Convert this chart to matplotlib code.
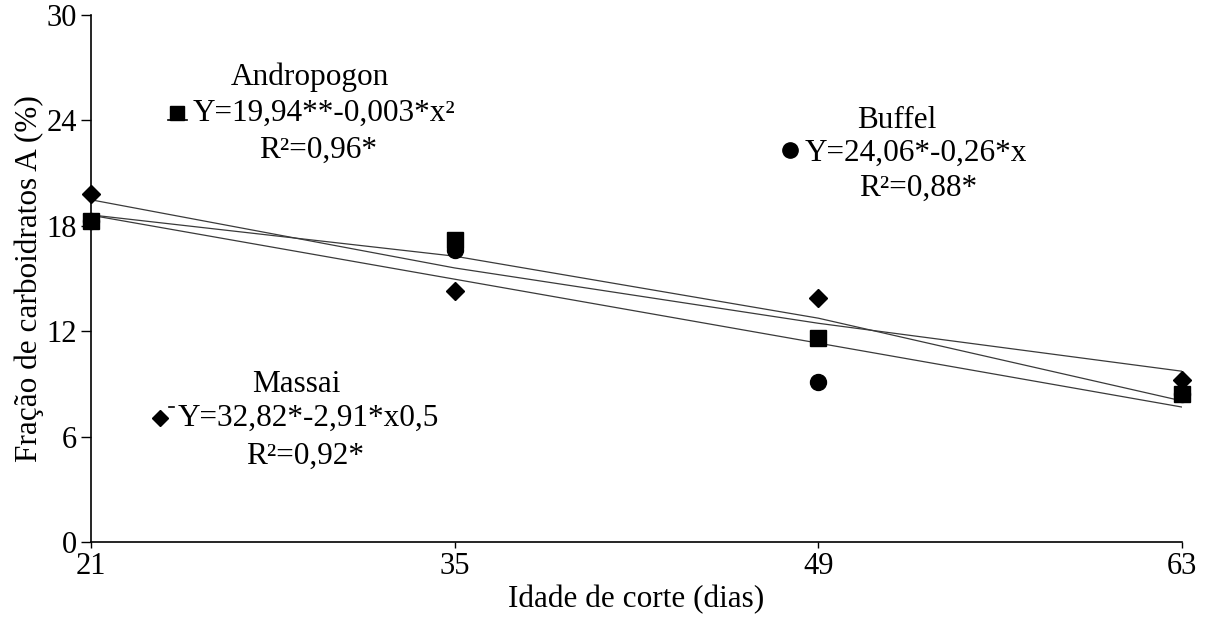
import matplotlib
matplotlib.use("Agg")
import matplotlib.pyplot as plt

plt.rcParams['font.family'] = ['Liberation Serif', 'DejaVu Serif']

# cutting age (days)
idade = [21, 35, 49, 63]

# observed values (%)
andropogon = [18.3, 17.2, 11.6, 8.4]
buffel = [18.3, 16.6, 9.1, 8.4]
massai = [19.8, 14.3, 13.9, 9.2]

# fitted trend lines read at each age
andropogon_fit = [18.62, 16.27, 12.74, 8.03]
buffel_fit = [18.60, 14.96, 11.32, 7.68]
massai_fit = [19.48, 15.60, 12.45, 9.72]

yticks = [0, 6, 12, 18, 24, 30]

fig = plt.figure(figsize=(12.08, 6.17), dpi=100)
ax = fig.add_axes([0.0753, 0.1216, 0.9032, 0.8541])

lc = '#3a3a3a'
ax.plot(idade, buffel_fit, color=lc, lw=0.9, zorder=1)
ax.plot(idade, andropogon_fit, color=lc, lw=0.9, zorder=1)
ax.plot(idade, massai_fit, color=lc, lw=0.9, zorder=1)

ax.plot(idade, buffel, 'o', color='black', ms=11.5, ls='none', zorder=3, clip_on=False)
ax.plot(idade, andropogon, 's', color='black', ms=11, ls='none', zorder=4, clip_on=False)
ax.plot(idade, massai, 'D', color='black', ms=9, ls='none', zorder=5, clip_on=False)

ax.set_xlim(21, 63)
ax.set_ylim(0, 30)
ax.set_xticks(idade)
ax.set_yticks(yticks)
ax.tick_params(axis='both', labelsize=22, width=1, colors='black')
ax.tick_params(axis='y', length=7, pad=3)
ax.tick_params(axis='x', length=4, pad=3)
for s in ['top', 'right']:
    ax.spines[s].set_visible(False)
for s in ['left', 'bottom']:
    ax.spines[s].set_linewidth(1.2)

ax.set_xlabel('Idade de corte (dias)', fontsize=22.5, labelpad=3)
ax.set_ylabel('Fração de carboidratos A (%)', fontsize=22.5, labelpad=2)

fs = 22.5
# Andropogon label
ax.text(29.43, 26.47, 'Andropogon', fontsize=fs, ha='center', va='center')
ax.plot([23.95, 24.7], [24.05, 24.05], color='black', lw=1.2)
ax.plot([24.31], [24.42], 's', color='black', ms=10.5)
ax.text(24.93, 24.42, 'Y=19,94**-0,003*x²', fontsize=fs, ha='left', va='center')
ax.text(29.74, 22.31, 'R²=0,96*', fontsize=fs, ha='center', va='center')

# Buffel label
ax.text(52.02, 24.02, 'Buffel', fontsize=fs, ha='center', va='center')
ax.plot([47.9], [22.31], 'o', color='black', ms=11)
ax.text(48.48, 22.14, 'Y=24,06*-0,26*x', fontsize=fs, ha='left', va='center')
ax.text(52.83, 20.15, 'R²=0,88*', fontsize=fs, ha='center', va='center')

# Massai label
ax.text(28.89, 8.99, 'Massai', fontsize=fs, ha='center', va='center')
ax.plot([24.0, 24.2], [7.7, 7.7], color='black', lw=1.2)
ax.plot([23.66], [7.06], 'D', color='black', ms=8.5)
ax.text(24.35, 7.06, 'Y=32,82*-2,91*x0,5', fontsize=fs, ha='left', va='center')
ax.text(29.24, 4.89, 'R²=0,92*', fontsize=fs, ha='center', va='center')

fig.savefig('out.png', dpi=100)
